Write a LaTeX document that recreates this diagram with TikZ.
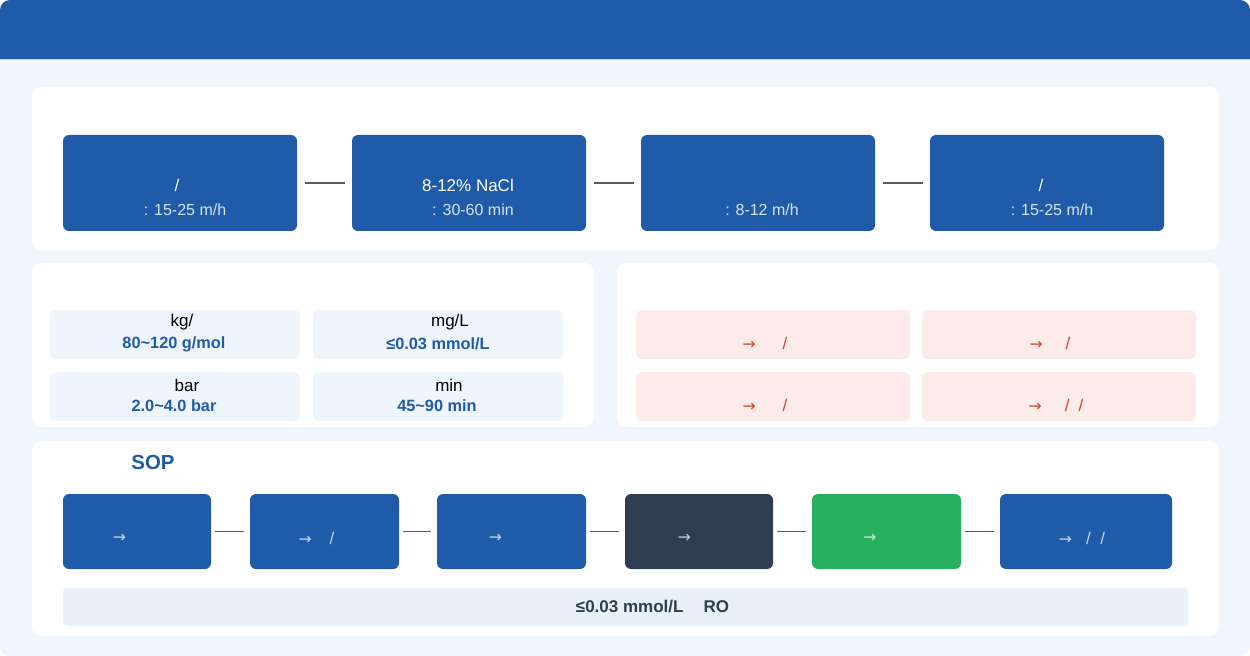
\documentclass[tikz,border=0pt]{standalone}
\usepackage{fontspec}
\setmainfont{Liberation Sans}
\newfontfamily\arrowfont{DejaVu Sans}
\usetikzlibrary{positioning}
\newlength{\pxu}
\setlength{\pxu}{0.75pt}
\newcommand{\rarr}{{\arrowfont\fontsize{11.75}{14}\selectfont →}}

\begin{document}
\begin{tikzpicture}[x=0.75pt, y=-0.75pt, inner sep=0pt, outer sep=0pt]

    % style
    \tikzset{font=\fontsize{12.75}{15}\selectfont}
    \definecolor{myblue}{RGB}{31, 91, 168}
    \definecolor{mybg}{RGB}{239, 246, 254}
    \definecolor{mycell}{RGB}{238, 245, 253}
    \definecolor{mypink}{RGB}{253, 235, 233}
    \definecolor{myred}{RGB}{214, 64, 52}
    \definecolor{mydark}{RGB}{44, 62, 80}
    \definecolor{mygreen}{RGB}{39, 174, 96}
    \definecolor{mynote}{RGB}{234, 240, 248}
    \definecolor{mygray}{RGB}{90, 90, 90}
    \definecolor{mysub}{RGB}{214, 226, 242}
    \tikzset{
        stepbox/.style={rectangle, rounded corners=4.5pt, fill=myblue, minimum width=234\pxu, minimum height=96\pxu},
        sopbox/.style={rectangle, rounded corners=4.5pt, fill=myblue, minimum width=149\pxu, minimum height=75\pxu},
        parbox/.style={rectangle, rounded corners=4pt, fill=mycell, minimum width=250\pxu, minimum height=49\pxu},
        riskbox/.style={rectangle, rounded corners=4pt, fill=mypink, minimum width=274\pxu, minimum height=49\pxu},
        card/.style={fill=white, rounded corners=7pt},
        link/.style={draw=mygray, line width=1.2\pxu},
        subtext/.style={text=mysub, font=\fontsize{12}{15}\selectfont},
        value/.style={text=myblue, font=\fontsize{12.25}{15}\selectfont\bfseries},
        risktext/.style={text=myred},
        arrowtext/.style={text=white, text opacity=0.75},
    }

    % page background and header band
    \useasboundingbox (0,0) rectangle (1250,656);
    \fill [mybg, rounded corners=7.5pt] (0,0) rectangle (1250,656);
    \fill [myblue, rounded corners=7.5pt] (0,0) rectangle (1250,60);
    \fill [myblue] (0,30) rectangle (1250,60);
    \draw [white!75!myblue, line width=1\pxu] (0,60) -- (1250,60);

    % white cards
    \fill [card] (32,87) rectangle (1219,250);
    \fill [card] (32,263) rectangle (594,427);
    \fill [card] (617,263) rectangle (1219,427);
    \fill [card] (32,441) rectangle (1219,636);

    % process steps
    \node [stepbox] (s1) at (180,183) {};
    \node [stepbox, right=55\pxu of s1] (s2) {};
    \node [stepbox, right=55\pxu of s2] (s3) {};
    \node [stepbox, right=55\pxu of s3] (s4) {};
    \foreach \a/\b in {s1/s2, s2/s3, s3/s4}
        \draw [link, shorten <=8\pxu, shorten >=7\pxu] (\a) -- (\b);
    \node [text=white] at ([shift={(-3,2)}]s1.center) {/};
    \node [subtext] at ([shift={(5,27)}]s1.center) {: 15-25 m/h};
    \node [text=white] at ([shift={(-1,2)}]s2.center) {8-12\% NaCl};
    \node [subtext] at ([shift={(4,27)}]s2.center) {: 30-60 min};
    \node [subtext] at ([shift={(4,27)}]s3.center) {: 8-12 m/h};
    \node [text=white] at ([shift={(-6,2)}]s4.center) {/};
    \node [subtext] at ([shift={(5,27)}]s4.center) {: 15-25 m/h};

    % parameters
    \node [parbox] (p1) at (175,334.5) {};
    \node [parbox, right=13\pxu of p1] (p2) {};
    \node [parbox, below=13\pxu of p1] (p3) {};
    \node [parbox, right=13\pxu of p3] (p4) {};
    \node at ([shift={(7,-12.5)}]p1.center) {kg/};
    \node [value] at ([shift={(-1,9.5)}]p1.center) {80\textasciitilde120 g/mol};
    \node at ([shift={(12,-12.5)}]p2.center) {mg/L};
    \node [value] at ([shift={(0,9.5)}]p2.center) {≤0.03 mmol/L};
    \node at ([shift={(12,-11.5)}]p3.center) {bar};
    \node [value] at ([shift={(-1,9.5)}]p3.center) {2.0\textasciitilde4.0 bar};
    \node at ([shift={(11,-11.5)}]p4.center) {min};
    \node [value] at ([shift={(-1,9.5)}]p4.center) {45\textasciitilde90 min};

    % risks
    \node [riskbox] (r1) at (773,334.5) {};
    \node [riskbox, right=12\pxu of r1] (r2) {};
    \node [riskbox, below=13\pxu of r1] (r3) {};
    \node [riskbox, right=12\pxu of r3] (r4) {};
    \node [risktext] at ([shift={(-8,8.5)}]r1.center) {\rarr\hspace{27\pxu}/};
    \node [risktext] at ([shift={(-9,8.5)}]r2.center) {\rarr\hspace{23\pxu}/};
    \node [risktext] at ([shift={(-8,8.5)}]r3.center) {\rarr\hspace{27\pxu}/};
    \node [risktext] at ([shift={(-3,8.5)}]r4.center) {\rarr\hspace{23\pxu}/\hspace{9\pxu}/};

    % SOP
    \node [text=myblue, font=\fontsize{15.3}{18}\selectfont\bfseries] (sop) at (153,462) {SOP};
    \node [sopbox, minimum width=148\pxu] (b1) at (137,531.5) {};
    \node [sopbox, right=39\pxu of b1] (b2) {};
    \node [sopbox, right=38\pxu of b2] (b3) {};
    \node [sopbox, right=39\pxu of b3, fill=mydark, minimum width=148\pxu] (b4) {};
    \node [sopbox, right=39\pxu of b4, fill=mygreen] (b5) {};
    \node [sopbox, right=39\pxu of b5, minimum width=172\pxu] (b6) {};
    \foreach \a/\b in {b1/b2, b2/b3, b3/b4, b4/b5, b5/b6}
        \draw [link, shorten <=4\pxu, shorten >=6.5\pxu] (\a) -- (\b);
    \node [arrowtext] at ([shift={(-17.5,6.5)}]b1.center) {\rarr};
    \node [arrowtext] at ([shift={(-8,6.5)}]b2.center) {\rarr\hspace{18\pxu}/};
    \node [arrowtext] at ([shift={(-16,6.5)}]b3.center) {\rarr};
    \node [arrowtext] at ([shift={(-14.5,6.5)}]b4.center) {\rarr};
    \node [arrowtext] at ([shift={(-16.5,6.5)}]b5.center) {\rarr};
    \node [arrowtext] at ([shift={(-4,6.5)}]b6.center) {\rarr\hspace{14\pxu}/\hspace{9.5\pxu}/};

    % note
    \node [rectangle, fill=mynote, rounded corners=3pt, minimum width=1125\pxu, minimum height=38\pxu] (note) at (625.5,606.5) {};
    \node [text=mydark, font=\fontsize{12.75}{15}\selectfont\bfseries] at ([shift={(27,0)}]note.center) {≤0.03 mmol/L\hspace{20\pxu}RO};

\end{tikzpicture}
\end{document}
